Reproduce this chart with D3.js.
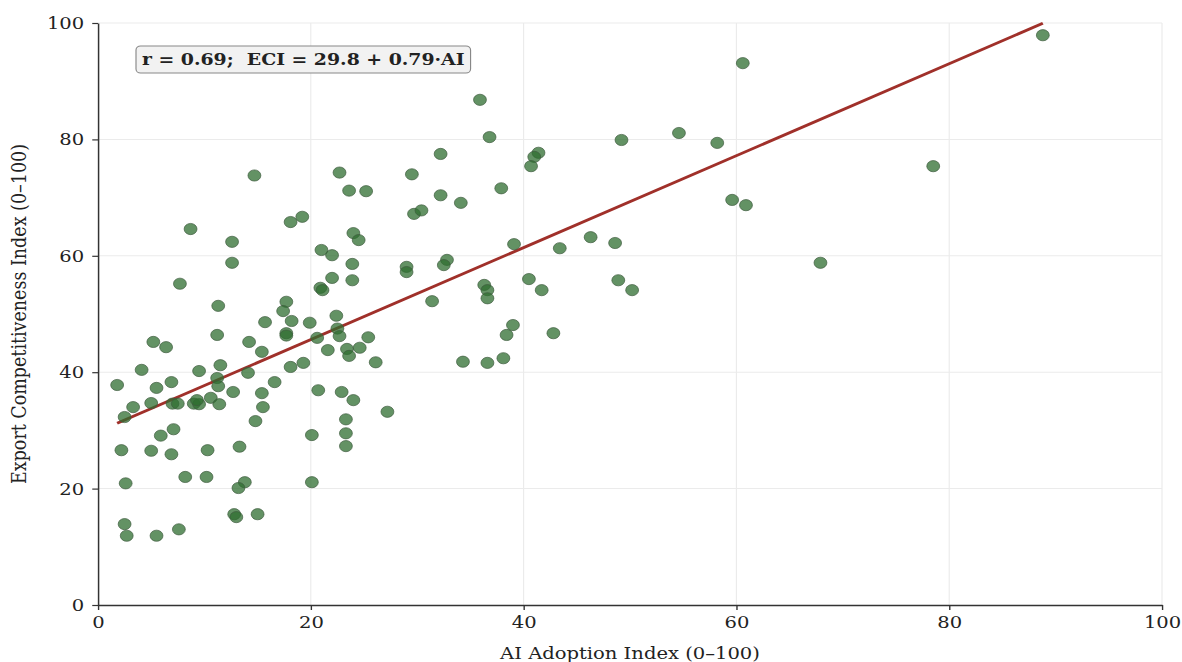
<!DOCTYPE html>
<html>
<head>
<meta charset="utf-8">
<script src="https://cdn.jsdelivr.net/npm/d3@7"></script>
<style>
  html, body { margin: 0; padding: 0; background: #fff; }
  svg { display: block; }
  text { font-family: "DejaVu Serif", serif; fill: #222; }
</style>
</head>
<body>
<svg id="chart"></svg>
<script>
// AI adoption index (x) and export competitiveness index (y)
let aiAdoption = [
  88.8, 60.6, 35.9, 36.8, 54.6, 49.2, 58.2, 32.2, 41.4, 41.0,
  40.7, 78.5, 14.7, 22.7, 29.5, 37.9, 23.6, 25.2, 32.2, 34.1,
  59.6, 60.9, 29.7, 30.4, 19.2, 18.1, 8.7, 12.6, 12.6, 7.7,
  11.3, 21.0, 22.0, 24.0, 24.5, 23.9, 23.9, 22.0, 20.9, 21.1,
  29.0, 29.0, 32.8, 32.5, 31.4, 36.3, 36.6, 36.6, 22.4, 17.7,
  17.4, 18.2, 19.9, 15.7, 17.7, 17.7, 11.2, 22.5, 22.7, 20.6,
  25.4, 24.6, 21.6, 23.4, 23.6, 26.1, 18.1, 19.3, 5.2, 6.4,
  14.2, 15.4, 4.1, 9.5, 11.5, 14.1, 11.2, 11.3, 1.8, 5.5,
  6.9, 16.6, 12.7, 15.4, 3.3, 2.5, 5.0, 7.0, 7.5, 9.0,
  9.5, 9.3, 10.6, 11.4, 15.5, 14.8, 7.1, 5.9, 2.2, 5.0,
  6.9, 10.3, 13.3, 20.1, 20.7, 22.9, 24.0, 23.3, 23.3, 23.3,
  27.2, 2.6, 8.2, 10.2, 13.8, 13.2, 20.1, 12.8, 13.0, 15.0,
  2.5, 2.7, 5.5, 7.6, 34.3, 36.6, 38.1, 39.1, 43.4, 46.3,
  48.6, 40.5, 41.7, 48.9, 50.2, 39.0, 38.4, 42.8, 67.9
];
let exportComp = [
  97.9, 93.1, 86.8, 80.4, 81.1, 79.9, 79.4, 77.5, 77.7, 77.0,
  75.4, 75.4, 73.8, 74.3, 74.0, 71.6, 71.2, 71.1, 70.4, 69.1,
  69.6, 68.7, 67.2, 67.8, 66.7, 65.8, 64.6, 62.4, 58.8, 55.2,
  51.4, 61.0, 60.1, 63.9, 62.7, 58.6, 55.8, 56.2, 54.5, 54.1,
  58.1, 57.2, 59.3, 58.4, 52.2, 55.0, 54.1, 52.7, 49.7, 52.1,
  50.5, 48.8, 48.5, 48.6, 46.7, 46.3, 46.4, 47.5, 46.2, 45.9,
  46.0, 44.2, 43.8, 44.0, 42.8, 41.7, 40.9, 41.6, 45.2, 44.3,
  45.2, 43.5, 40.4, 40.2, 41.2, 39.9, 39.0, 37.6, 37.8, 37.3,
  38.3, 38.3, 36.6, 36.4, 34.0, 32.3, 34.7, 34.6, 34.6, 34.6,
  34.5, 35.2, 35.6, 34.5, 34.0, 31.6, 30.2, 29.1, 26.6, 26.5,
  25.9, 26.6, 27.2, 29.2, 36.9, 36.6, 35.2, 31.9, 29.5, 27.3,
  33.2, 20.9, 22.0, 22.0, 21.1, 20.1, 21.1, 15.6, 15.1, 15.6,
  13.9, 11.9, 11.9, 13.0, 41.8, 41.6, 42.4, 62.0, 61.3, 63.2,
  62.2, 56.0, 54.1, 55.8, 54.1, 48.1, 46.4, 46.7, 58.8
];
let xTicks = [0, 20, 40, 60, 80, 100];
let yTicks = [0, 20, 40, 60, 80, 100];
let fitIntercept = 29.8;
let fitSlope = 0.79;
let fitR = 0.69;

let width = 1182;
let height = 662;
// the reference looks a bit wider than tall, so draw on a narrower canvas and stretch it
let sx = 1.15;
let vw = width / sx;

let svg = d3.select('#chart')
  .attr('width', width)
  .attr('height', height)
  .attr('viewBox', [0, 0, vw, height])
  .attr('preserveAspectRatio', 'none');

let x = d3.scaleLinear().domain([0, 100]).range([98 / sx, 1162 / sx]);
let y = d3.scaleLinear().domain([0, 100]).range([605, 23]);

// grid
svg.append('g')
  .selectAll('line.gx')
  .data(xTicks.slice(1))
  .join('line')
  .attr('x1', d => x(d)).attr('x2', d => x(d))
  .attr('y1', y(0)).attr('y2', y(100))
  .attr('stroke', '#ebebeb').attr('stroke-width', 1);

svg.append('g')
  .selectAll('line.gy')
  .data(yTicks.slice(1))
  .join('line')
  .attr('x1', x(0)).attr('x2', x(100))
  .attr('y1', d => y(d)).attr('y2', d => y(d))
  .attr('stroke', '#ebebeb').attr('stroke-width', 1);

// regression line over the data range
let xExt = d3.extent(aiAdoption);
svg.append('line')
  .attr('x1', x(xExt[0])).attr('y1', y(fitIntercept + fitSlope * xExt[0]))
  .attr('x2', x(xExt[1])).attr('y2', y(fitIntercept + fitSlope * xExt[1]))
  .attr('stroke', '#a0302a')
  .attr('stroke-width', 2.8);

// points
let pts = aiAdoption.map((d, i) => [d, exportComp[i]]);
svg.append('g')
  .selectAll('circle')
  .data(pts)
  .join('circle')
  .attr('cx', d => x(d[0]))
  .attr('cy', d => y(d[1]))
  .attr('r', 5.6)
  .attr('fill', '#2f6e30')
  .attr('fill-opacity', 0.75)
  .attr('stroke', '#3d5a3d')
  .attr('stroke-opacity', 0.8)
  .attr('stroke-width', 0.8);

// axes
let xAxis = svg.append('g')
  .attr('transform', `translate(0,${y(0)})`)
  .call(d3.axisBottom(x).tickValues(xTicks).tickSize(5).tickSizeOuter(0).tickPadding(6));
let yAxis = svg.append('g')
  .attr('transform', `translate(${x(0)},0)`)
  .call(d3.axisLeft(y).tickValues(yTicks).tickSize(5).tickSizeOuter(0).tickPadding(7));

[xAxis, yAxis].forEach(g => {
  g.select('.domain').attr('stroke', '#333').attr('stroke-width', 1.3);
  g.selectAll('.tick line').attr('stroke', '#333').attr('stroke-width', 1.2);
  g.selectAll('.tick text')
    .attr('font-family', '"DejaVu Serif", serif')
    .attr('font-size', 17)
    .attr('fill', '#333');
});

svg.append('text')
  .attr('x', (x(0) + x(100)) / 2)
  .attr('y', 659)
  .attr('text-anchor', 'middle')
  .attr('font-size', 17)
  .attr('fill', '#333')
  .text('AI Adoption Index (0–100)');

svg.append('text')
  .attr('transform', `translate(${26 / sx},${(y(0) + y(100)) / 2}) rotate(-90)`)
  .attr('text-anchor', 'middle')
  .attr('font-size', 17.5)
  .attr('fill', '#333')
  .text('Export Competitiveness Index (0–100)');

// annotation box
let ann = svg.append('g');
let annText = ann.append('text')
  .attr('x', 142 / sx)
  .attr('y', 65)
  .attr('font-size', 16.4)
  .attr('font-weight', 'bold')
  .attr('fill', '#222')
  .style('white-space', 'pre')
  .text(`r = ${fitR.toFixed(2)};  ECI = ${fitIntercept.toFixed(1)} + ${fitSlope.toFixed(2)}·AI`);
let bb = annText.node().getBBox();
ann.insert('rect', 'text')
  .attr('x', bb.x - 6 / sx)
  .attr('y', 46)
  .attr('width', bb.width + 12 / sx)
  .attr('height', 27)
  .attr('rx', 4)
  .attr('fill', '#f2f2f2')
  .attr('stroke', '#888')
  .attr('stroke-width', 1);
</script>
</body>
</html>
